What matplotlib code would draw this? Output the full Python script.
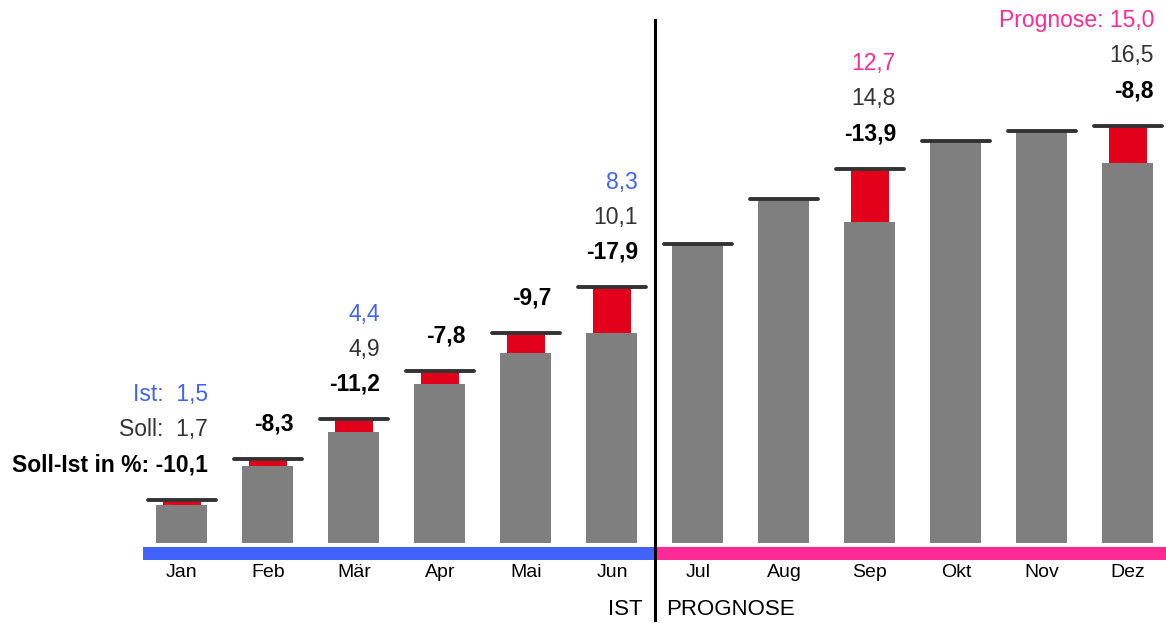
import matplotlib
matplotlib.use("Agg")
import matplotlib.pyplot as plt
from matplotlib.patches import Rectangle

plt.rcParams["font.family"] = ["Liberation Sans", "DejaVu Sans"]

months = ["Jan", "Feb", "Mär", "Apr", "Mai", "Jun",
          "Jul", "Aug", "Sep", "Okt", "Nov", "Dez"]
# cumulative target values
soll = [1.7, 3.3, 4.9, 6.8, 8.3, 10.1, 11.8, 13.6, 14.8, 15.9, 16.3, 16.5]
# actual values (Jan-Jun) and forecast values (Jul-Dez)
ist = [1.5, 3.03, 4.4, 6.27, 7.5, 8.3, 11.8, 13.6, 12.7, 15.9, 16.3, 15.0]
n_actual = 6
# deviation in percent, shown above each column with a gap
pct = [-10.1, -8.3, -11.2, -7.8, -9.7, -17.9, None, None, -13.9, None, None, -8.8]
# months that get the full value labels
labelled = {0: ("Ist:  ", "Soll:  "), 2: ("", ""), 5: ("", ""),
            8: ("", ""), 11: ("Prognose: ", "")}

GREY = "#7f7f7f"
RED = "#e2001a"
BLUE = "#4263fb"
PINK = "#ff2a96"
DARK = "#333333"


def de(v):
    return f"{v:.1f}".replace(".", ",")


fig = plt.figure(figsize=(11.66, 6.23), dpi=100)
ax = fig.add_axes([0, 0, 1, 1])
ax.set_xlim(-2.116, 11.442)
ax.set_ylim(-3.162, 21.46)
ax.axis("off")

bar_w = 0.593
red_w = 0.45
line_w = 0.79

for i, (s, v) in enumerate(zip(soll, ist)):
    ax.bar(i, v, width=bar_w, color=GREY, zorder=2)
    if s > v + 0.01:
        ax.bar(i, s - v, bottom=v, width=red_w, color=RED, zorder=2)
    ax.plot([i - line_w / 2, i + line_w / 2], [s, s], color=DARK, lw=2.8,
            solid_capstyle="round", zorder=3)

# period bands under the columns
ax.add_patch(Rectangle((-0.457, -0.672), 5.957, 0.526, color=BLUE, lw=0, zorder=1))
ax.add_patch(Rectangle((5.5, -0.672), 6.2, 0.526, color=PINK, lw=0, zorder=1))

# divider between actual and forecast
ax.plot([5.5, 5.5], [-3.04, 20.67], color="black", lw=2.2, zorder=4)

for i, m in enumerate(months):
    ax.annotate(m, (i, 0), xytext=(0, -30), textcoords="offset pixels",
                ha="center", va="center", fontsize=14, color="black")

ax.annotate("IST", (5.5, 0), xytext=(-12, -67), textcoords="offset pixels",
            ha="right", va="center", fontsize=16, color="black")
ax.annotate("PROGNOSE", (5.5, 0), xytext=(11, -67), textcoords="offset pixels",
            ha="left", va="center", fontsize=16, color="black")

dx = 26
for i, p in enumerate(pct):
    top = soll[i]
    if p is not None:
        txt = ("Soll-Ist in %: " if i == 0 else "") + de(p)
        ax.annotate(txt, (i, top), xytext=(dx, 35), textcoords="offset pixels",
                    ha="right", va="center", fontsize=16.5, fontweight="bold",
                    color="black")
    if i in labelled:
        ist_pre, soll_pre = labelled[i]
        col = BLUE if i < n_actual else PINK
        ax.annotate(soll_pre + de(soll[i]), (i, top), xytext=(dx, 70),
                    textcoords="offset pixels", ha="right", va="center",
                    fontsize=16.5, color=DARK)
        ax.annotate(ist_pre + de(ist[i]), (i, top), xytext=(dx, 105),
                    textcoords="offset pixels", ha="right", va="center",
                    fontsize=16.5, color=col)

fig.savefig("out.png", dpi=100)
